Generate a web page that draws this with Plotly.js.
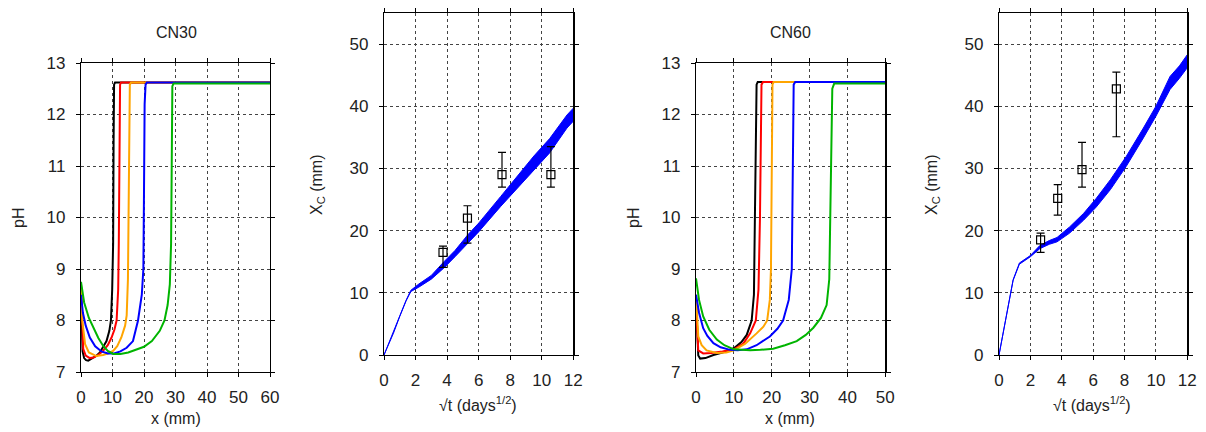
<!DOCTYPE html>
<html>
<head>
<meta charset="utf-8">
<script src="https://cdn.plot.ly/plotly-3.0.1.min.js"></script>
<style>html,body{margin:0;padding:0;background:#fff}#chart{width:1206px;height:432px}</style>
</head>
<body>
<div id="chart"></div>
<script>
// ---------- CN30 pH profiles ----------
const cn30BlackX = [0, 0.2, 0.5, 1.0, 1.6, 2.3, 3.5, 5.0, 6.0, 7.0, 8.1, 9.0, 9.5, 9.9, 10.2, 10.35, 10.5, 10.8, 60];
const cn30BlackY = [8.5, 7.9, 7.4, 7.27, 7.23, 7.22, 7.26, 7.32, 7.38, 7.48, 7.6, 7.8, 8.0, 8.6, 9.5, 11.5, 12.58, 12.62, 12.62];
const cn30RedX = [0, 0.3, 0.7, 1.5, 2.8, 4.0, 5.5, 7.0, 8.5, 9.7, 10.6, 11.3, 11.8, 12.0, 12.2, 12.4, 12.7, 60];
const cn30RedY = [8.7, 7.9, 7.45, 7.32, 7.27, 7.28, 7.33, 7.41, 7.52, 7.67, 7.82, 8.0, 8.6, 9.5, 11.5, 12.58, 12.62, 12.62];
const cn30OrangeX = [0, 0.4, 1.3, 2.5, 4.9, 7.0, 8.5, 10.2, 11.5, 12.8, 14.0, 14.5, 14.9, 15.1, 15.3, 15.5, 15.9, 60];
const cn30OrangeY = [8.65, 8.0, 7.54, 7.38, 7.31, 7.33, 7.36, 7.41, 7.5, 7.67, 7.9, 8.1, 8.8, 9.8, 11.5, 12.58, 12.62, 12.62];
const cn30BlueX = [0, 0.6, 1.5, 2.8, 4.5, 6.5, 8.5, 10.5, 12.5, 14.5, 16.5, 18.1, 19.3, 19.8, 20.0, 20.2, 20.5, 20.9, 60];
const cn30BlueY = [8.5, 8.15, 7.9, 7.67, 7.5, 7.4, 7.36, 7.36, 7.4, 7.47, 7.6, 8.0, 8.5, 9.0, 10.5, 12.2, 12.58, 12.62, 12.62];
const cn30GreenX = [0, 1.0, 2.5, 3.9, 5.5, 7.0, 8.5, 10.2, 12.5, 15, 17.5, 20, 22.5, 25, 26.5, 27.5, 28.2, 28.6, 28.8, 29.0, 29.4, 60];
const cn30GreenY = [8.75, 8.35, 8.05, 7.87, 7.66, 7.51, 7.41, 7.35, 7.35, 7.38, 7.43, 7.49, 7.6, 7.8, 8.0, 8.3, 8.7, 9.5, 11.0, 12.55, 12.6, 12.6];

// ---------- CN60 pH profiles ----------
const cn60BlackX = [0, 0.3, 0.6, 1.1, 2.5, 4.6, 7, 10, 12, 13.4, 14.7, 15.3, 15.6, 15.8, 16.0, 16.3, 50];
const cn60BlackY = [8.4, 7.6, 7.32, 7.26, 7.27, 7.33, 7.38, 7.46, 7.58, 7.72, 8.0, 8.5, 10, 11.8, 12.58, 12.63, 12.63];
const cn60RedX = [0, 0.3, 0.6, 1.9, 4, 7, 10, 12.5, 14.3, 15.8, 16.5, 16.9, 17.1, 17.3, 17.7, 50];
const cn60RedY = [8.3, 7.7, 7.42, 7.36, 7.37, 7.4, 7.44, 7.55, 7.75, 8.0, 8.6, 10, 12, 12.58, 12.63, 12.63];
const cn60OrangeX = [0, 0.6, 1.5, 2.8, 5.5, 8, 10, 13, 16, 17.8, 18.8, 19.5, 19.8, 20.0, 20.2, 20.5, 50];
const cn60OrangeY = [8.5, 7.69, 7.52, 7.42, 7.37, 7.38, 7.42, 7.55, 7.75, 7.88, 8.0, 8.4, 9.0, 11, 12.58, 12.63, 12.63];
const cn60BlueX = [0, 0.8, 1.9, 3.0, 4.6, 6.5, 9, 11, 13.4, 16, 19.5, 21.5, 23, 24.5, 25.3, 25.6, 25.8, 26.2, 50];
const cn60BlueY = [8.5, 8.15, 7.85, 7.7, 7.56, 7.48, 7.43, 7.42, 7.44, 7.52, 7.69, 7.84, 8.0, 8.4, 9.0, 11, 12.58, 12.63, 12.63];
const cn60GreenX = [0, 0.8, 1.9, 3.5, 5.5, 7.5, 10, 14.3, 17, 20.4, 23.5, 26.6, 29, 31, 33, 34.5, 35.2, 35.5, 35.8, 36.0, 36.5, 50];
const cn60GreenY = [8.82, 8.4, 8.08, 7.82, 7.63, 7.52, 7.44, 7.42, 7.43, 7.45, 7.52, 7.6, 7.72, 7.86, 8.05, 8.3, 8.8, 10, 12, 12.5, 12.6, 12.6];

// ---------- CN30 carbonation depth ----------
const cn30BandX = [0, 0.6, 1.0, 1.4, 1.7, 2.2, 3.0, 3.8, 4.5, 5.3, 6.0, 7.4, 8.5, 9.5, 10.5, 11.6, 12];
const cn30BandUpper = [0, 3.6, 6.3, 8.8, 10.4, 11.4, 12.8, 15.0, 16.8, 19.3, 21.2, 25.5, 29.0, 32.0, 34.8, 38.6, 39.7];
const cn30BandLower = [0, 3.5, 6.2, 8.7, 10.2, 10.9, 12.2, 14.0, 15.8, 18.0, 19.8, 23.9, 27.0, 29.8, 32.5, 36.5, 37.6];
const cn30ExpX = [3.74, 5.29, 7.48, 10.58];
const cn30ExpY = [16.5, 22.0, 29.0, 29.0];
const cn30ExpHi = [17.5, 24.0, 32.6, 33.5];
const cn30ExpLo = [14.1, 18.0, 27.0, 27.0];

// ---------- CN60 carbonation depth ----------
const cn60BandX = [0, 0.5, 0.9, 1.3, 2.0, 2.6, 3.2, 3.7, 4.5, 5.4, 6.2, 7.1, 8.1, 9.2, 10.0, 10.9, 11.5, 12];
const cn60BandUpper = [0, 6.5, 12.1, 14.8, 16.0, 17.6, 18.4, 18.9, 20.6, 22.8, 25.2, 28.2, 31.9, 36.5, 40.0, 44.8, 46.5, 48.3];
const cn60BandLower = [0, 6.4, 12.0, 14.6, 15.8, 17.1, 17.8, 18.2, 19.6, 21.7, 23.8, 26.6, 30.3, 34.9, 38.4, 42.7, 44.5, 46.2];
const cn60ExpX = [2.65, 3.74, 5.29, 7.48];
const cn60ExpY = [18.5, 25.2, 29.8, 42.8];
const cn60ExpHi = [19.6, 27.4, 34.2, 45.5];
const cn60ExpLo = [16.5, 22.5, 27.0, 35.1];

const colors = ['#000000', '#ff0000', '#ffa500', '#0000ff', '#00b400'];
const FONT = 'Liberation Sans, Arial, Helvetica, sans-serif';

function line(x, y, c, xa, ya) {
  return {x: x, y: y, type: 'scatter', mode: 'lines', xaxis: xa, yaxis: ya,
          line: {color: c, width: 2}, hoverinfo: 'skip', showlegend: false};
}
function band(x, lo, hi, xa, ya) {
  return [
    {x: x, y: lo, type: 'scatter', mode: 'lines', xaxis: xa, yaxis: ya,
     line: {color: '#0000ff', width: 1}, showlegend: false},
    {x: x, y: hi, type: 'scatter', mode: 'lines', xaxis: xa, yaxis: ya, fill: 'tonexty',
     fillcolor: '#0000ff', line: {color: '#0000ff', width: 1}, showlegend: false}
  ];
}
function exp(x, y, hi, lo, xa, ya) {
  return {x: x, y: y, type: 'scatter', mode: 'markers', xaxis: xa, yaxis: ya, showlegend: false,
    marker: {symbol: 'square-open', size: 8, color: '#000', line: {width: 1.2, color: '#000'}},
    error_y: {type: 'data', symmetric: false,
      array: hi.map((h, i) => h - y[i]), arrayminus: lo.map((l, i) => y[i] - l),
      color: '#000', thickness: 1.2, width: 4}};
}

const traces = [
  line(cn30BlackX, cn30BlackY, colors[0], 'x', 'y'),
  line(cn30RedX, cn30RedY, colors[1], 'x', 'y'),
  line(cn30OrangeX, cn30OrangeY, colors[2], 'x', 'y'),
  line(cn30BlueX, cn30BlueY, colors[3], 'x', 'y'),
  line(cn30GreenX, cn30GreenY, colors[4], 'x', 'y'),
  ...band(cn30BandX, cn30BandLower, cn30BandUpper, 'x2', 'y2'),
  exp(cn30ExpX, cn30ExpY, cn30ExpHi, cn30ExpLo, 'x2', 'y2'),
  line(cn60BlackX, cn60BlackY, colors[0], 'x3', 'y3'),
  line(cn60RedX, cn60RedY, colors[1], 'x3', 'y3'),
  line(cn60OrangeX, cn60OrangeY, colors[2], 'x3', 'y3'),
  line(cn60BlueX, cn60BlueY, colors[3], 'x3', 'y3'),
  line(cn60GreenX, cn60GreenY, colors[4], 'x3', 'y3'),
  ...band(cn60BandX, cn60BandLower, cn60BandUpper, 'x4', 'y4'),
  exp(cn60ExpX, cn60ExpY, cn60ExpHi, cn60ExpLo, 'x4', 'y4')
];

const W = 1206, H = 432;
function ax(extra) {
  return Object.assign({
    showline: true, linecolor: '#000', linewidth: 1.2, mirror: 'ticks',
    ticks: 'outside', ticklen: 4, tickcolor: '#000', tickwidth: 1,
    showgrid: true, gridcolor: '#444', griddash: 'dot', gridwidth: 1,
    zeroline: false, tickfont: {family: FONT, size: 17, color: '#222'},
    fixedrange: true
  }, extra);
}
const dPH = [(H - 372) / H, (H - 63) / H];
const dXC = [(H - 355) / H, (H - 13) / H];
const xs = {ticklabelstandoff: 5};
const ys = {ticklabelstandoff: 7};

const layout = {
  width: W, height: H, margin: {l: 0, r: 0, t: 0, b: 0},
  paper_bgcolor: '#fff', plot_bgcolor: '#fff', showlegend: false,
  font: {family: FONT, size: 16, color: '#222'},
  xaxis: ax(Object.assign({domain: [81 / W, 270 / W], range: [0, 60], dtick: 10, anchor: 'y'}, xs)),
  yaxis: ax(Object.assign({domain: dPH, range: [7, 13], dtick: 1, anchor: 'x'}, ys)),
  xaxis2: ax(Object.assign({domain: [384 / W, 573.3 / W], range: [0, 12], dtick: 2, anchor: 'y2'}, xs)),
  yaxis2: ax(Object.assign({domain: dXC, range: [0, 55], dtick: 10, anchor: 'x2'}, ys)),
  xaxis3: ax(Object.assign({domain: [696 / W, 885.3 / W], range: [0, 50], dtick: 10, anchor: 'y3'}, xs)),
  yaxis3: ax(Object.assign({domain: dPH, range: [7, 13], dtick: 1, anchor: 'x3'}, ys)),
  xaxis4: ax(Object.assign({domain: [999 / W, 1187.3 / W], range: [0, 12], dtick: 2, anchor: 'y4'}, xs)),
  yaxis4: ax(Object.assign({domain: dXC, range: [0, 55], dtick: 10, anchor: 'x4'}, ys)),
  annotations: [
    {text: 'CN30', x: 176 / W, y: (H - 33) / H},
    {text: 'CN60', x: 790 / W, y: (H - 33) / H},
    {text: 'pH', x: 18 / W, y: (H - 218) / H, textangle: -90},
    {text: 'pH', x: 633 / W, y: (H - 218) / H, textangle: -90},
    {text: 'x (mm)', x: 176 / W, y: (H - 418) / H},
    {text: 'x (mm)', x: 790 / W, y: (H - 418) / H},
    {text: 'X<sub>C</sub> (mm)', x: 318 / W, y: (H - 185) / H, textangle: -90},
    {text: 'X<sub>C</sub> (mm)', x: 933 / W, y: (H - 185) / H, textangle: -90},
    {text: '\u221At (days<sup>1/2</sup>)', x: 478 / W, y: (H - 404) / H},
    {text: '\u221At (days<sup>1/2</sup>)', x: 1092 / W, y: (H - 404) / H}
  ].map(a => Object.assign({xref: 'paper', yref: 'paper', showarrow: false,
        xanchor: 'center', yanchor: 'middle', font: {family: FONT, size: 16, color: '#222'}}, a))
};

Plotly.newPlot('chart', traces, layout, {staticPlot: true, displayModeBar: false});
</script>
</body>
</html>
